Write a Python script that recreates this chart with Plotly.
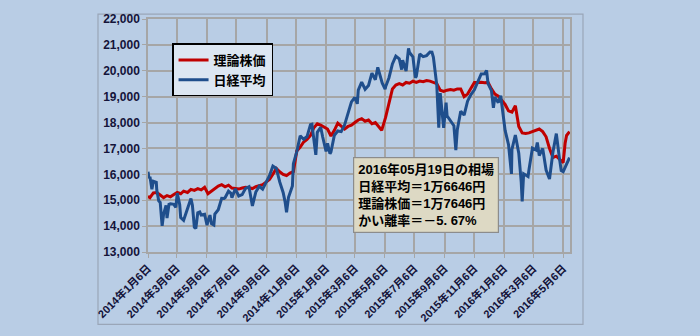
import plotly.graph_objects as go

# ---- data ----
nikkei_dates = [
    "2014-01-06", "2014-01-08", "2014-01-10", "2014-01-14", "2014-01-17", "2014-01-23", "2014-01-24", "2014-01-28",
    "2014-01-31", "2014-02-04", "2014-02-07", "2014-02-12", "2014-02-14", "2014-02-18", "2014-02-21", "2014-02-28",
    "2014-03-04", "2014-03-07", "2014-03-12", "2014-03-14", "2014-03-20", "2014-03-24", "2014-03-28", "2014-04-04",
    "2014-04-07", "2014-04-11", "2014-04-14", "2014-04-18", "2014-04-22", "2014-04-25", "2014-05-02", "2014-05-07",
    "2014-05-09", "2014-05-13", "2014-05-16", "2014-05-21", "2014-05-23", "2014-05-30", "2014-06-06", "2014-06-11",
    "2014-06-13", "2014-06-20", "2014-06-25", "2014-06-27", "2014-07-04", "2014-07-11", "2014-07-18", "2014-07-25",
    "2014-08-01", "2014-08-08", "2014-08-15", "2014-08-22", "2014-08-29", "2014-09-05", "2014-09-12", "2014-09-19",
    "2014-09-26", "2014-10-03", "2014-10-10", "2014-10-14", "2014-10-17", "2014-10-21", "2014-10-24", "2014-10-29",
    "2014-10-31", "2014-11-07", "2014-11-14", "2014-11-21", "2014-11-28", "2014-12-05", "2014-12-08", "2014-12-12",
    "2014-12-16", "2014-12-19", "2014-12-26", "2014-12-30",
    "2015-01-06", "2015-01-09", "2015-01-14", "2015-01-16", "2015-01-23", "2015-01-30", "2015-02-06", "2015-02-13",
    "2015-02-20", "2015-02-27", "2015-03-06", "2015-03-11", "2015-03-13", "2015-03-20", "2015-03-27", "2015-04-03",
    "2015-04-10", "2015-04-17", "2015-04-22", "2015-04-24", "2015-05-01", "2015-05-07", "2015-05-08", "2015-05-15",
    "2015-05-22", "2015-05-29", "2015-06-05", "2015-06-10", "2015-06-12", "2015-06-19", "2015-06-24", "2015-06-26",
    "2015-07-03", "2015-07-08", "2015-07-10", "2015-07-17", "2015-07-24", "2015-07-31", "2015-08-07", "2015-08-11",
    "2015-08-14", "2015-08-21", "2015-08-25", "2015-08-28", "2015-09-01", "2015-09-04", "2015-09-09", "2015-09-11",
    "2015-09-18", "2015-09-25", "2015-09-29", "2015-10-02", "2015-10-09", "2015-10-16", "2015-10-23", "2015-10-30",
    "2015-11-06", "2015-11-13", "2015-11-20", "2015-11-27", "2015-12-01", "2015-12-04", "2015-12-11", "2015-12-15",
    "2015-12-18", "2015-12-25", "2015-12-30",
    "2016-01-08", "2016-01-15", "2016-01-21", "2016-01-22", "2016-01-29", "2016-02-05", "2016-02-10", "2016-02-12",
    "2016-02-15", "2016-02-19", "2016-02-24", "2016-02-26", "2016-03-04", "2016-03-11", "2016-03-14", "2016-03-18",
    "2016-03-25", "2016-04-01", "2016-04-08", "2016-04-15", "2016-04-22", "2016-04-28", "2016-05-02", "2016-05-06",
    "2016-05-13", "2016-05-19",
]
nikkei_values = [
    16100, 15850, 15912, 15422, 15734, 15695, 15391, 14980,
    14915, 14009, 14463, 14800, 14313, 14843, 14866, 14841,
    14722, 15274, 14830, 14327, 14224, 14475, 14696, 15063,
    14808, 13960, 13910, 14516, 14546, 14429, 14457, 14034,
    14199, 14425, 14097, 14043, 14462, 14632, 15077, 15069,
    15097, 15349, 15267, 15095, 15437, 15164, 15215, 15457,
    15523, 14778, 15318, 15539, 15425, 15668, 15948, 16321,
    16229, 15708, 15300, 14937, 14532, 15111, 15291, 15553,
    16413, 16880, 17490, 17357, 17459, 17920, 17935, 17371,
    16755, 17621, 17818, 17451,
    16883, 17197, 16795, 16864, 17511, 17674, 17648, 17913,
    18332, 18798, 18971, 18723, 19254, 19560, 19286, 19435,
    19908, 19653, 20134, 20020, 19532, 19292, 19380, 19733,
    20264, 20563, 20461, 20046, 20407, 19991, 20868, 20706,
    20540, 19737, 19780, 20650, 20544, 20585, 20724, 20720,
    20520, 19436, 17806, 19136, 18166, 17792, 18770, 18264,
    18070, 17880, 16931, 17725, 18438, 18291, 18826, 19083,
    19265, 19597, 19880, 19884, 20012, 19504, 19231, 18566,
    18987, 18770, 19034,
    17698, 17147, 16017, 16959, 17518, 16820, 15713, 14953,
    16022, 15968, 15916, 16189, 17015, 16939, 17233, 16725,
    17003, 16164, 15822, 16849, 17573, 16666, 16147, 16107,
    16412, 16646,
]

theory_dates = [
    "2014-01-06", "2014-01-10", "2014-01-17", "2014-01-24", "2014-01-31", "2014-02-07", "2014-02-14", "2014-02-21",
    "2014-02-28", "2014-03-07", "2014-03-14", "2014-03-20", "2014-03-28", "2014-04-04", "2014-04-11", "2014-04-18",
    "2014-04-25", "2014-05-02", "2014-05-09", "2014-05-16", "2014-05-23", "2014-05-30", "2014-06-06", "2014-06-13",
    "2014-06-20", "2014-06-27", "2014-07-04", "2014-07-11", "2014-07-18", "2014-07-25", "2014-08-01", "2014-08-08",
    "2014-08-15", "2014-08-22", "2014-08-29", "2014-09-05", "2014-09-12", "2014-09-19", "2014-09-26", "2014-10-03",
    "2014-10-10", "2014-10-17", "2014-10-24", "2014-10-31", "2014-11-07", "2014-11-14", "2014-11-21", "2014-11-28",
    "2014-12-05", "2014-12-12", "2014-12-19", "2014-12-26",
    "2015-01-09", "2015-01-16", "2015-01-23", "2015-01-30", "2015-02-06", "2015-02-13", "2015-02-20", "2015-02-27",
    "2015-03-06", "2015-03-13", "2015-03-20", "2015-03-27", "2015-04-03", "2015-04-10", "2015-04-17", "2015-04-24",
    "2015-04-30", "2015-05-08", "2015-05-15", "2015-05-22", "2015-05-29", "2015-06-05", "2015-06-12", "2015-06-19",
    "2015-06-26", "2015-07-03", "2015-07-10", "2015-07-17", "2015-07-24", "2015-07-31", "2015-08-07", "2015-08-14",
    "2015-08-21", "2015-08-28", "2015-09-04", "2015-09-11", "2015-09-18", "2015-09-25", "2015-10-02", "2015-10-09",
    "2015-10-16", "2015-10-23", "2015-10-30", "2015-11-06", "2015-11-13", "2015-11-20", "2015-11-27", "2015-12-04",
    "2015-12-11", "2015-12-18", "2015-12-25",
    "2016-01-08", "2016-01-15", "2016-01-22", "2016-01-29", "2016-02-05", "2016-02-12", "2016-02-19", "2016-02-26",
    "2016-03-04", "2016-03-11", "2016-03-18", "2016-03-25", "2016-04-01", "2016-04-08", "2016-04-15", "2016-04-22",
    "2016-04-28", "2016-05-06", "2016-05-10", "2016-05-13", "2016-05-19",
]
theory_values = [
    15150, 15100, 15280, 15300, 15200, 15100, 15180, 15130,
    15220, 15300, 15250, 15350, 15300, 15420, 15380, 15450,
    15400, 15500, 15250, 15350, 15480, 15550, 15600, 15520,
    15580, 15470, 15450, 15430, 15470, 15500, 15480, 15450,
    15520, 15560, 15600, 15700, 15800, 16000, 16230, 16100,
    16000, 15950, 16050, 16100, 16900, 17050, 17250, 17350,
    17500, 17800, 17950, 17900,
    17750, 17480, 17700, 17980, 17850, 17750, 17850, 17900,
    18000, 18100, 18150, 18050, 18100, 17950, 18000, 17850,
    17700, 18200, 18800, 19300, 19450, 19500, 19450, 19550,
    19520, 19600, 19550, 19600, 19580, 19620, 19600, 19550,
    19500, 19250, 19200, 19250, 19280, 19250, 19300, 19300,
    19000, 19100, 19300, 19550, 19550, 19560, 19540, 19550,
    19300, 19100, 19020,
    18700, 18450, 18400, 18650, 17850, 17600, 17580, 17600,
    17650, 17700, 17750, 17650, 17450, 17000, 16650, 16700,
    16600, 16450, 17200, 17500, 17646,
]

tick_dates = [
    "2014-01-06", "2014-03-06", "2014-05-06", "2014-07-06", "2014-09-06", "2014-11-06",
    "2015-01-06", "2015-03-06", "2015-05-06", "2015-07-06", "2015-09-06", "2015-11-06",
    "2016-01-06", "2016-03-06", "2016-05-06",
]
tick_labels = [
    "2014年1月6日", "2014年3月6日", "2014年5月6日", "2014年7月6日", "2014年9月6日", "2014年11月6日",
    "2015年1月6日", "2015年3月6日", "2015年5月6日", "2015年7月6日", "2015年9月6日", "2015年11月6日",
    "2016年1月6日", "2016年3月6日", "2016年5月6日",
]

series_names = ["理論株価", "日経平均"]
note_lines = [
    "2016年05月19日の相場",
    "日経平均＝1万6646円",
    "理論株価＝1万7646円",
    "かい離率＝－5. 67%",
]

BG = "#b9cde5"
FONT = "Liberation Sans, Noto Sans CJK JP, sans-serif"
TXT = "#14143a"

fig = go.Figure()
fig.add_trace(go.Scatter(x=theory_dates, y=theory_values, mode="lines", name=series_names[0],
                         line=dict(color="#c00000", width=3)))
fig.add_trace(go.Scatter(x=nikkei_dates, y=nikkei_values, mode="lines", name=series_names[1],
                         line=dict(color="#1f4e8c", width=3)))

fig.update_layout(
    width=700, height=336,
    margin=dict(l=148, r=130, t=18, b=80),
    paper_bgcolor=BG,
    plot_bgcolor="#f2f2f2",
    font=dict(family=FONT, color=TXT),
    showlegend=True,
    legend=dict(x=0.057, y=0.895, xanchor="left", yanchor="top",
                bgcolor="#dce6f2", bordercolor="#000000", borderwidth=1.5,
                font=dict(size=13, weight="bold", color="#000000"),
                itemwidth=30, tracegroupgap=4),
    xaxis=dict(type="date", range=["2014-01-06", "2016-05-20"],
               tickvals=tick_dates, ticktext=tick_labels, tickangle=-45,
               tickfont=dict(size=11, weight="bold", color=TXT),
               showgrid=True, gridcolor="#a6a6a6", gridwidth=1.5,
               showline=True, linecolor="#a6a6a6", linewidth=1.5, mirror=True,
               ticks="outside", ticklen=4, tickcolor="#a6a6a6"),
    yaxis=dict(range=[13000, 22000], dtick=1000, tickformat=",",
               tickfont=dict(size=12, weight="bold", color=TXT),
               showgrid=True, gridcolor="#a6a6a6", gridwidth=1.5,
               showline=True, linecolor="#a6a6a6", linewidth=1.5, mirror=True,
               ticks="outside", ticklen=4, tickcolor="#a6a6a6"),
    shapes=[dict(type="rect", xref="paper", yref="paper", layer="below",
                 x0=-0.1185, x1=1.0308, y0=-0.311, y1=1.021,
                 line=dict(color="#9aa6b8", width=1.2), fillcolor=BG)],
    annotations=[dict(xref="paper", yref="paper", x=0.486, y=0.4076, xanchor="left", yanchor="top",
                      text="<br>".join(note_lines), showarrow=False, align="left",
                      bgcolor="#ddd9c4", bordercolor="#8c8c8c", borderwidth=1.2, borderpad=4,
                      font=dict(size=13, weight="bold", color="#000000", family=FONT))],
)

fig.write_html("out.html")
